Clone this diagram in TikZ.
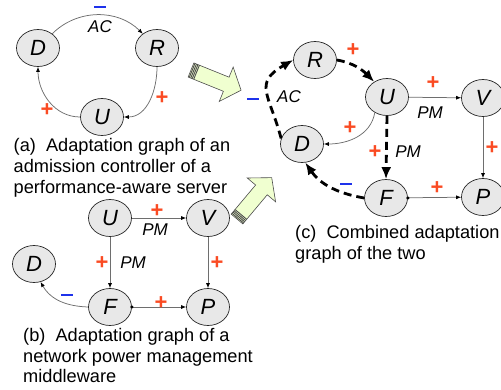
\documentclass[tikz,border=0pt]{standalone}
\usepackage{fontspec}
\setmainfont{Liberation Sans}
\usetikzlibrary{arrows.meta,shapes.geometric}
\definecolor{plusred}{RGB}{250,75,35}
\definecolor{minusblue}{RGB}{30,50,235}
\definecolor{nodefill}{RGB}{232,232,232}
\definecolor{arrowfill}{RGB}{240,255,208}
\definecolor{edgegray}{RGB}{110,110,110}
\newcommand\stripedarrow[3]{%
\begin{scope}[shift={#1},rotate=#2,scale=#3]
 \filldraw[fill=arrowfill,draw=black!70,line width=0.6pt] (0,-7.6) -- (38,-7.6) -- (38,-18.5) -- (54,0) -- (38,18.5) -- (38,7.6) -- (0,7.6) -- cycle;
 \foreach \s in {1.2,2.8,4.4,6} \draw[black!70,line width=0.9pt] (\s,-7.6) -- (\s,7.6);
\end{scope}}
\begin{document}
\begin{tikzpicture}[x=1pt,y=1pt,
 gnode/.style={ellipse,draw=black!85,fill=nodefill,line width=0.7pt,minimum width=43pt,minimum height=37pt,inner sep=0pt,font=\fontsize{22}{22}\selectfont\itshape},
 thinedge/.style={draw=edgegray,line width=0.75pt,-{Latex[length=5pt,width=4pt,color=black]}},
 dashedge/.style={draw=black,line width=2.8pt,dash pattern=on 8pt off 5pt,-{Latex[length=12pt,width=10pt]}},
 lbl/.style={inner sep=0pt,font=\fontsize{17}{17}\selectfont\itshape},
 plussign/.style={inner sep=0pt,text=plusred,font=\fontsize{22}{22}\selectfont\bfseries},
 minussign/.style={inner sep=0pt,fill=minusblue,minimum width=12pt,minimum height=2.6pt},
 captext/.style={anchor=base west,inner sep=0pt,font=\fontsize{18.2}{21}\selectfont}]
\useasboundingbox (0,0) rectangle (501,-389);
\clip (0,0) rectangle (501,-389);

% big arrows
\stripedarrow{(191,-70)}{-22}{1}
\stripedarrow{(237,-219)}{50}{1}

% (a)
\node[gnode] (Da) at (38,-48) {D};
\node[gnode] (Ra) at (157,-48) {R};
\node[gnode] (Ua) at (102,-117) {U};
\draw[thinedge] (Da) to[bend left=45] (Ra);
\draw[thinedge] (Ra.south) to[out=-90,in=0] (Ua.east);
\draw[thinedge] (Ua.west) to[out=180,in=-90] (Da.south);
\node[lbl] (acA) at (100,-27) {AC};
\node[minussign] (mA) at (100,-7) {};
\node[plussign] (pA1) at (162,-98) {+};
\node[plussign] (pA2) at (47,-110) {+};
\node[captext] (capA1) at (13.5,-151) {(a)~~Adaptation graph of an};
\node[captext] (capA2) at (13.5,-172) {admission controller of a};
\node[captext] (capA3) at (13.5,-193) {performance-aware server};

% (b)
\node[gnode] (Ub) at (110,-218) {U};
\node[gnode] (Vb) at (208,-218) {V};
\node[gnode] (Db) at (34,-264) {D};
\node[gnode] (Fb) at (110,-307) {F};
\node[gnode] (Pb) at (208,-307) {P};
\draw[thinedge] (Ub) -- (Vb);
\draw[thinedge] (Ub) -- (Fb);
\draw[thinedge] (Vb) -- (Pb);
\draw[thinedge] (Fb) -- (Pb);
\fill (Fb.east) circle (1.7pt);
\draw[thinedge] (Fb.west) to[out=178,in=-60] (Db.-70);
\node[plussign] (pB1) at (157,-211) {+};
\node[lbl] (pmB1) at (155,-230) {PM};
\node[plussign] (pB2) at (102,-263) {+};
\node[lbl] (pmB2) at (133,-263) {PM};
\node[plussign] (pB3) at (217,-263) {+};
\node[plussign] (pB4) at (161,-303) {+};
\node[minussign] (mB) at (67,-295) {};
\node[captext] (capB1) at (23,-341) {(b)~~Adaptation graph of a};
\node[captext] (capB2) at (23,-362) {network power management};
\node[captext] (capB3) at (23,-382) {middleware};

% (c)
\node[gnode] (Rc) at (315,-60) {R};
\node[gnode] (Uc) at (387,-97) {U};
\node[gnode] (Vc) at (483,-98) {V};
\node[gnode] (Dc) at (302,-144) {D};
\node[gnode] (Fc) at (386,-198) {F};
\node[gnode] (Pc) at (483,-197) {P};
\draw[dashedge] (Dc.165) to[out=105,in=210,looseness=1.5] (Rc.west);
\draw[dashedge] (Rc.east) to[out=-10,in=135] (Uc.130);
\draw[thinedge] (Uc) -- (Vc);
\draw[thinedge] (Uc.232) to[out=-100,in=0] (Dc.east);
\draw[dashedge] (Uc.south) -- (Fc.north);
\draw[thinedge] (Vc) -- (Pc);
\draw[thinedge] (Fc) -- (Pc);
\fill (Fc.east) circle (1.7pt);
\draw[dashedge] (Fc.west) to[out=170,in=-55] (Dc.-80);
\node[lbl] (acC) at (289,-97) {AC};
\node[minussign] (mC1) at (253,-99) {};
\node[plussign] (pC1) at (353,-50) {+};
\node[plussign] (pC2) at (433,-83) {+};
\node[lbl] (pmC1) at (430,-113) {PM};
\node[plussign] (pC3) at (350,-128) {+};
\node[plussign] (pC4) at (375,-152) {+};
\node[lbl] (pmC2) at (408,-152) {PM};
\node[plussign] (pC5) at (492,-148) {+};
\node[plussign] (pC6) at (437,-188) {+};
\node[minussign] (mC2) at (346,-184) {};
\node[captext] (capC1) at (295,-238) {(c)~~Combined adaptation};
\node[captext] (capC2) at (295,-259) {graph of the two};
\end{tikzpicture}
\end{document}
